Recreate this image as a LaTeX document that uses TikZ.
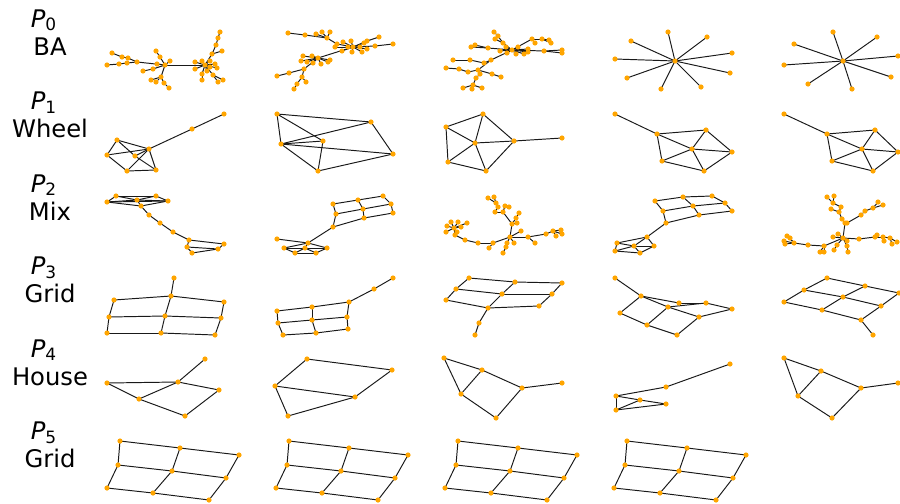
\documentclass[tikz,border=0pt]{standalone}
\usepackage{fontspec}
\setmainfont{DejaVu Sans}
\definecolor{vtxorange}{RGB}{255,165,0}
\tikzset{
  edge/.style={draw=black!90, line width=0.55pt},
  vtx/.style={fill=vtxorange},
  lab/.style={font=\fontsize{13.8}{16}\selectfont, inner sep=0pt}
}
% nodes as n/x/y (pixels), edges as a/b
\newcommand\drawgraph[3]{%
  \foreach \n/\x/\y in {#2} \coordinate (#1-\n) at (\x,\y);
  \foreach \a/\b in {#3} \draw[edge] (#1-\a) -- (#1-\b);
  \foreach \n/\x/\y in {#2} \fill[vtx] (#1-\n) circle [radius=0.052cm];
}
\begin{document}
\begin{tikzpicture}[x=0.02cm, y=-0.02cm]
\useasboundingbox (0,0) rectangle (900,504);

\foreach \k/\name in {0/BA, 1/Wheel, 2/Mix, 3/Grid, 4/House, 5/Grid} {
  \node[lab, anchor=base] (p\k) at (44, 27+82.5*\k) {\textit{P}\textsubscript{\k}};
  \node[lab, anchor=base] (t\k) at (50, 55+82.5*\k) {\name};
}

% row 0: BA
\drawgraph{r0c0}{1/165/65, 2/205/65, 3/160/57, 4/156/51, 5/170/61, 6/157/64, 7/153/69, 8/143/71, 9/161/77, 10/151/80, 11/156/82, 12/164/83, 13/169/88, 14/137/62, 15/128/58, 16/122/57, 17/112/53, 18/127/63, 19/119/64, 20/107/65, 21/195/62, 22/202/61, 23/210/61, 24/212/54, 25/216/45, 26/218/38, 27/220/32, 28/222/51, 29/195/69, 30/202/74, 31/202/80, 32/207/71, 33/213/75, 34/218/82, 35/223/80, 36/215/64, 37/217/68, 38/210/67}
  {1/2, 1/3, 3/4, 1/5, 1/6, 1/7, 7/8, 1/9, 9/10, 9/11, 9/12, 12/13, 1/14, 14/15, 15/16, 16/17, 14/18, 18/19, 19/20, 2/21, 2/22, 2/23, 2/24, 24/25, 25/26, 26/27, 24/28, 2/29, 2/30, 30/31, 2/32, 2/33, 33/34, 33/35, 2/36, 2/37, 2/38}
\drawgraph{r0c1}{1/353/47, 2/318/58, 3/288/33, 4/305/35, 5/316/34, 6/322/32, 7/330/32, 8/327/38, 9/337/44, 10/335/47, 11/343/42, 12/351/41, 13/348/47, 14/352/52, 15/342/51, 16/360/47, 17/362/52, 18/364/43, 19/367/41, 20/379/37, 21/375/46, 22/393/44, 23/367/49, 24/303/56, 25/312/56, 26/301/61, 27/307/62, 28/313/63, 29/321/64, 30/328/62, 31/330/60, 32/304/69, 33/289/73, 34/277/76, 35/302/77, 36/306/82, 37/297/84, 38/294/89}
  {1/2, 3/4, 4/8, 8/9, 9/1, 5/8, 6/8, 7/8, 1/10, 1/11, 1/12, 1/13, 1/14, 1/15, 1/16, 1/17, 1/18, 1/19, 19/20, 1/21, 21/22, 1/23, 2/24, 2/25, 2/26, 2/27, 2/28, 2/29, 2/30, 2/31, 2/32, 32/33, 33/34, 32/35, 35/36, 35/37, 37/38}
\drawgraph{r0c2}{1/512/50, 2/491/60, 3/494/32, 4/498/36, 5/495/39, 6/503/43, 7/506/47, 8/500/51, 9/507/53, 10/516/54, 11/518/47, 12/524/54, 13/528/49, 14/528/52, 15/532/39, 16/535/43, 17/542/39, 18/549/40, 19/551/43, 20/544/51, 21/562/50, 22/562/53, 23/488/48, 24/475/45, 25/471/47, 26/484/63, 27/470/60, 28/453/60, 29/446/68, 30/459/69, 31/468/72, 32/478/70, 33/480/74, 34/476/78, 35/492/74, 36/501/77, 37/473/85, 38/463/88, 39/472/89, 40/482/88}
  {1/2, 3/4, 4/6, 5/6, 6/1, 1/7, 1/8, 1/9, 1/10, 1/11, 1/12, 1/13, 1/14, 1/15, 15/17, 17/18, 17/19, 15/16, 1/20, 20/21, 20/22, 1/23, 23/24, 23/25, 2/26, 26/27, 27/28, 2/32, 32/31, 31/30, 30/29, 32/33, 33/34, 34/37, 37/38, 37/39, 37/40, 32/35, 35/36}
\drawgraph{r0c3}{0/675/61, 1/668/32, 2/631/41, 3/707/37, 4/615/59, 5/732/53, 6/627/78, 7/730/73, 8/661/89, 9/701/87}
  {0/1, 0/2, 0/3, 0/4, 0/5, 0/6, 0/7, 0/8, 0/9}
\drawgraph{r0c4}{0/843/61, 1/833/32, 2/794/44, 3/877/37, 4/784/65, 5/898/56, 6/808/84, 7/852/89, 8/891/77}
  {0/1, 0/2, 0/3, 0/4, 0/5, 0/6, 0/7, 0/8}

% row 1: wheel
\drawgraph{r1c0}{0/149/149, 1/117/140, 2/107/155, 3/127/171, 4/156/170, 5/135/156, 6/192/129, 7/224/114}
  {0/1, 0/2, 0/3, 0/4, 0/5, 1/2, 2/3, 3/4, 4/5, 5/1, 0/6, 6/7}
\drawgraph{r1c1}{0/281/144, 1/277/114, 2/323/141, 3/318/171, 4/393/154, 5/371/122}
  {0/1, 0/2, 0/3, 0/4, 0/5, 1/2, 2/3, 3/4, 4/5, 5/1}
\drawgraph{r1c2}{0/475/143, 1/446/127, 2/483/114, 3/514/141, 4/486/171, 5/448/162, 6/562/138}
  {0/1, 0/2, 0/3, 0/4, 0/5, 1/2, 2/3, 3/4, 4/5, 5/1, 3/6}
\drawgraph{r1c3}{0/692/149, 1/657/134, 2/706/130, 3/732/152, 4/704/171, 5/662/161, 6/615/114}
  {0/1, 0/2, 0/3, 0/4, 0/5, 1/2, 2/3, 3/4, 4/5, 5/1, 1/6}
\drawgraph{r1c4}{0/862/149, 1/827/134, 2/875/130, 3/898/152, 4/873/171, 5/832/161, 6/784/114}
  {0/1, 0/2, 0/3, 0/4, 0/5, 1/2, 2/3, 3/4, 4/5, 5/1, 1/6}

% row 2: mix
\drawgraph{r2c0}{1/107/202, 2/116/196, 3/137/200, 4/156/196, 5/168/201, 6/141/206, 7/149/215, 8/160/223, 9/173/232, 10/189/240, 11/224/244, 12/187/247, 13/192/253, 14/218/249}
  {1/2, 2/4, 4/5, 5/6, 6/1, 3/1, 3/2, 3/4, 3/5, 3/6, 1/5, 6/7, 7/8, 8/9, 9/10, 10/11, 10/12, 12/14, 12/13, 13/14, 14/11}
\drawgraph{r2c1}{1/277/239, 2/308/243, 3/284/248, 4/295/253, 5/305/248, 6/316/253, 7/327/248, 8/333/204, 9/358/200, 10/383/196, 11/336/214, 12/363/209, 13/391/204, 14/333/227, 15/364/218, 16/393/213}
  {1/2, 2/3, 3/4, 4/6, 6/7, 7/2, 5/2, 5/3, 5/4, 5/6, 5/7, 3/7, 2/14, 8/9, 9/10, 11/12, 12/13, 14/15, 15/16, 8/11, 11/14, 9/12, 12/15, 10/13, 13/16}
\drawgraph{r2c2}{1/510/237, 2/512/224, 3/517/223, 4/519/213, 5/503/212, 6/505/206, 7/509/207, 8/498/207, 9/495/212, 10/496/203, 11/488/198, 12/494/197, 13/521/231, 14/528/237, 15/535/243, 16/546/234, 17/553/231, 18/561/230, 19/562/234, 20/556/236, 21/514/243, 22/507/243, 23/506/247, 24/503/253, 25/493/243, 26/489/248, 27/478/243, 28/465/240, 29/455/235, 30/451/222, 31/458/222, 32/467/223, 33/447/226, 34/446/232, 35/454/228, 36/461/227, 37/457/232, 38/516/218}
  {1/2, 2/3, 2/38, 38/4, 2/5, 5/6, 6/7, 5/9, 9/8, 8/10, 10/11, 10/12, 1/13, 1/14, 14/15, 14/16, 16/17, 17/18, 17/19, 17/20, 1/21, 1/22, 22/23, 23/24, 1/25, 25/26, 25/27, 27/28, 28/29, 29/35, 35/30, 35/31, 35/32, 35/33, 35/34, 35/36, 35/37}
\drawgraph{r2c3}{1/655/201, 2/683/197, 3/712/196, 4/663/211, 5/693/206, 6/725/203, 7/666/223, 8/699/215, 9/732/211, 10/647/237, 11/617/243, 12/634/246, 13/615/251, 14/640/253, 15/654/246}
  {1/2, 2/3, 4/5, 5/6, 7/8, 8/9, 1/4, 4/7, 2/5, 5/8, 3/6, 6/9, 7/10, 10/11, 11/13, 13/14, 14/15, 15/10, 12/10, 12/11, 12/13, 12/14, 12/15}
\drawgraph{r2c4}{1/843/238, 2/845/223, 3/847/223, 4/842/219, 5/839/212, 6/841/207, 7/833/203, 8/827/197, 9/834/196, 10/831/209, 11/861/215, 12/865/211, 13/873/208, 14/878/202, 15/883/205, 16/838/234, 17/833/237, 18/847/241, 19/837/245, 20/834/250, 21/847/246, 22/848/252, 23/859/239, 24/875/237, 25/877/235, 26/883/237, 27/884/241, 28/890/238, 29/892/244, 30/897/242, 31/824/246, 32/820/252, 33/824/252, 34/808/245, 35/794/243, 36/785/244, 37/787/236, 38/790/238, 39/784/241}
  {1/2, 2/3, 2/4, 4/5, 5/10, 5/6, 6/7, 7/8, 7/9, 3/11, 11/12, 12/13, 13/14, 13/15, 1/16, 1/17, 1/18, 1/19, 19/20, 1/21, 21/22, 1/23, 23/24, 24/25, 24/26, 26/27, 26/28, 28/29, 28/30, 1/31, 31/32, 31/33, 31/34, 34/35, 35/36, 35/37, 35/38, 35/39}

% row 3: grid
\drawgraph{r3c0}{1/114/300, 2/171/296, 3/224/302, 4/109/317, 5/165/316, 6/221/318, 7/107/333, 8/161/333, 9/215/335, 10/174/278}
  {1/2, 2/3, 4/5, 5/6, 7/8, 8/9, 1/4, 4/7, 2/5, 5/8, 3/6, 6/9, 2/10}
\drawgraph{r3c1}{1/277/311, 2/312/307, 3/349/302, 4/278/323, 5/312/320, 6/347/317, 7/283/335, 8/316/333, 9/348/329, 10/374/289, 11/393/278}
  {1/2, 2/3, 4/5, 5/6, 7/8, 8/9, 1/4, 4/7, 2/5, 5/8, 3/6, 6/9, 3/10, 10/11}
\drawgraph{r3c2}{1/469/278, 2/515/282, 3/562/283, 4/456/289, 5/502/294, 6/552/294, 7/446/300, 8/488/308, 9/539/306, 10/479/323, 11/475/335}
  {1/2, 2/3, 4/5, 5/6, 7/8, 8/9, 1/4, 4/7, 2/5, 5/8, 3/6, 6/9, 8/10, 10/11}
\drawgraph{r3c3}{1/620/313, 2/647/325, 3/677/335, 4/641/296, 5/668/307, 6/699/317, 7/679/303, 8/706/303, 9/732/309, 10/615/278}
  {1/2, 2/3, 4/5, 5/6, 7/8, 8/9, 1/4, 4/7, 2/5, 5/8, 3/6, 6/9, 4/10}
\drawgraph{r3c4}{1/784/302, 2/804/290, 3/827/278, 4/822/310, 5/843/297, 6/865/286, 7/861/320, 8/881/306, 9/899/293, 10/873/335}
  {1/2, 2/3, 4/5, 5/6, 7/8, 8/9, 1/4, 4/7, 2/5, 5/8, 3/6, 6/9, 7/10}

% row 4: house
\drawgraph{r4c0}{1/107/383, 2/178/382, 3/205/359, 4/139/399, 5/185/416, 6/219/390}
  {1/2, 1/4, 2/4, 4/5, 5/6, 6/2, 2/3}
\drawgraph{r4c1}{1/275/386, 2/307/359, 3/392/370, 4/355/397, 5/288/416}
  {1/2, 2/3, 3/4, 4/1, 1/5, 5/4}
\drawgraph{r4c2}{1/444/358, 2/461/394, 3/482/370, 4/522/388, 5/496/418, 6/562/383}
  {1/2, 1/3, 2/3, 3/4, 2/5, 5/4, 4/6}
\drawgraph{r4c3}{1/616/396, 2/616/410, 3/640/400, 4/666/404, 5/666/387, 6/730/364}
  {1/2, 1/3, 2/3, 2/4, 3/4, 1/5, 5/6}
\drawgraph{r4c4}{1/784/358, 2/798/396, 3/821/371, 4/861/388, 5/832/418, 6/898/383}
  {1/2, 1/3, 2/3, 3/4, 2/5, 5/4, 4/6}

% row 5: grid
\foreach \c in {0,1,2,3} {
  \drawgraph{r5c\c}{1/120+169*\c/441, 2/180+169*\c/448, 3/239+169*\c/455, 4/118+169*\c/465, 5/172+169*\c/471, 6/226+169*\c/478, 7/107+169*\c/488, 8/153+169*\c/493, 9/209+169*\c/500}
    {1/2, 2/3, 4/5, 5/6, 7/8, 8/9, 1/4, 4/7, 2/5, 5/8, 3/6, 6/9}
}
\end{tikzpicture}
\end{document}
